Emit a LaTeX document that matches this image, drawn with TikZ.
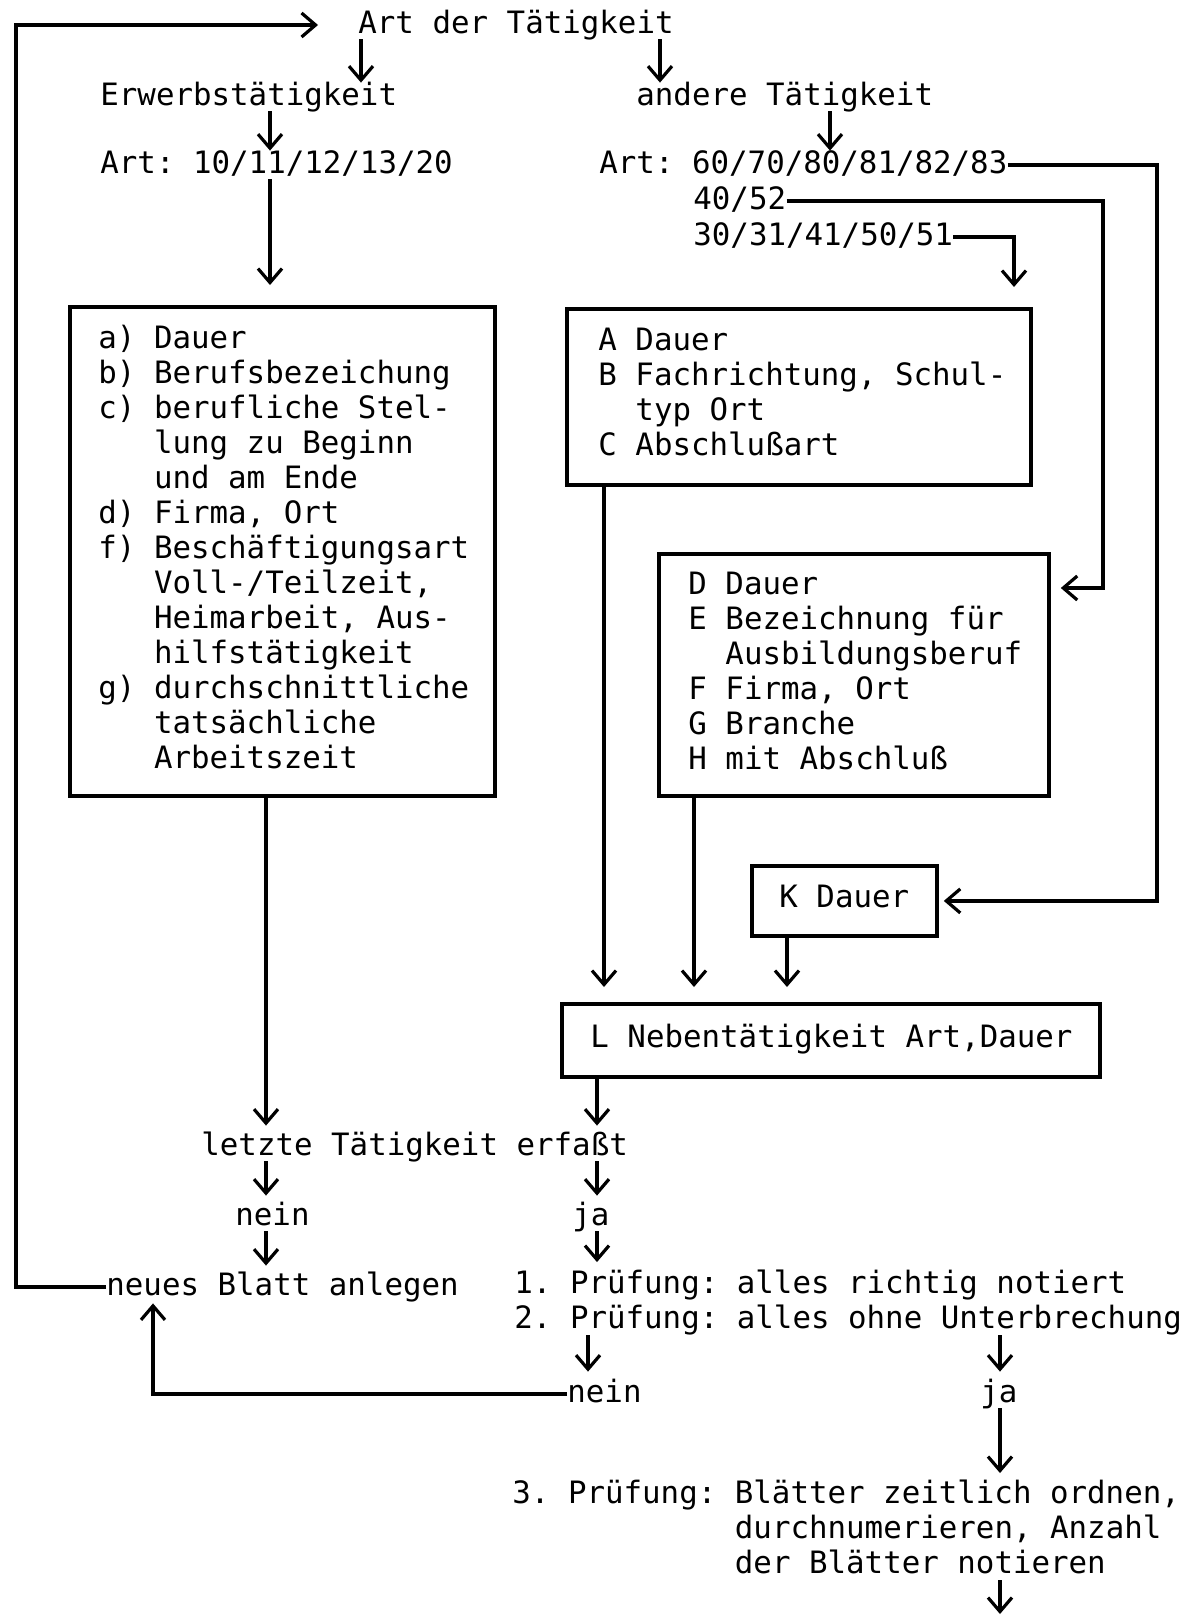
\documentclass[tikz,border=0pt]{standalone}
\usepackage{fontspec}
\setmainfont{DejaVu Sans Mono}
\usetikzlibrary{arrows.meta,calc}
\begin{document}
\frenchspacing
\begin{tikzpicture}[x=0.5pt,y=-0.5pt,
  font=\fontsize{15.4pt}{17.5pt}\selectfont\frenchspacing,
  lbl/.style={inner sep=0pt, text height=11pt, text depth=3pt, anchor=west},
  % multi-line texts are placed by the baseline of their last line
  txt/.style={inner sep=0pt, align=left, anchor=base west},
  box/.style={draw, line width=1.9pt, inner sep=0pt, anchor=north west},
  ln/.style={line width=1.6pt},
  arr/.style={ln, -{Straight Barb[length=7pt,width=12pt,line width=1.6pt]}}]
\path[use as bounding box] (0,0) rectangle (1185,1617);

% helper columns and rows for the connectors
\foreach \xx in {16,153,266,270,361,588,597,604,660,694,787,830,1000,1014,1103,1157}
  \coordinate (x\xx) at (\xx,0);
\coordinate (y588) at (0,588);

% top level
\node[lbl] (top) at (358,25) {Art der Tätigkeit};
\node[lbl] (erw) at (100,97) {Erwerbstätigkeit};
\node[lbl] (and) at (636,97) {andere Tätigkeit};
\node[lbl] (art1) at (100,165) {Art: 10/11/12/13/20};
\node[lbl] (art2) at (599,165) {Art: 60/70/80/81/82/83};
\node[lbl] (c4052) at (693,201) {40/52};
\node[lbl] (c3031) at (693,237) {30/31/41/50/51};

% boxes
\node[box, minimum width=212.5pt, minimum height=244.5pt] (b1) at (68,305) {};
\node[txt] (t1) at (98,768) {a) Dauer\\
b) Berufsbezeichung\\
c) berufliche Stel-\\
\phantom{c) }lung zu Beginn\\
\phantom{c) }und am Ende\\
d) Firma, Ort\\
f) Beschäftigungsart\\
\phantom{f) }Voll-/Teilzeit,\\
\phantom{f) }Heimarbeit, Aus-\\
\phantom{f) }hilfstätigkeit\\
g) durchschnittliche\\
\phantom{g) }tatsächliche\\
\phantom{g) }Arbeitszeit};

\node[box, minimum width=232pt, minimum height=88pt] (bA) at (565,307) {};
\node[txt] (tA) at (598,455) {A Dauer\\
B Fachrichtung, Schul-\\
\phantom{B }typ Ort\\
C Abschlußart};

\node[box, minimum width=195pt, minimum height=121pt] (bD) at (657,552) {};
\node[txt] (tD) at (688,769) {D Dauer\\
E Bezeichnung für\\
\phantom{E }Ausbildungsberuf\\
F Firma, Ort\\
G Branche\\
H mit Abschluß};

\node[box, minimum width=92.5pt, minimum height=35pt] (bK) at (750,864) {};
\node[lbl] (tK) at (779,899) {K Dauer};

\node[box, minimum width=269pt, minimum height=36.5pt] (bL) at (560,1002) {};
\node[lbl] (tL) at (590,1039) {L Nebentätigkeit Art,Dauer};

% checks
\node[lbl] (letzte) at (201,1147) {letzte Tätigkeit erfaßt};
\node[lbl] (nein1) at (235,1217) {nein};
\node[lbl] (ja1) at (572,1217) {ja};
\node[lbl] (neues) at (106,1287) {neues Blatt anlegen};
\node[txt] (pr12) at (514,1328) {1. Prüfung: alles richtig notiert\\
2. Prüfung: alles ohne Unterbrechung};
\node[lbl] (nein2) at (567,1394) {nein};
\node[lbl] (ja2) at (980,1394) {ja};
\node[txt] (pr3) at (512,1573) {3. Prüfung: Blätter zeitlich ordnen,\\
\phantom{3. Prüfung: }durchnumerieren, Anzahl\\
\phantom{3. Prüfung: }der Blätter notieren};
\coordinate (endpt) at (1000,1614);

% connectors
\draw[arr] (x361 |- top.south) -- (x361 |- erw.north);
\draw[arr] (x660 |- top.south) -- (x660 |- and.north);
\draw[arr] (x270 |- erw.south) -- (x270 |- art1.north);
\draw[arr] (x830 |- and.south) -- (x830 |- art2.north);
\draw[arr, shorten >=10pt] (x270 |- art1.south) -- (x270 |- b1.north);
\draw[arr, shorten >=10pt] (c3031.east) -| (x1014 |- bA.north);
\draw[arr, shorten >=5pt] (c4052.east) -| (x1103 |- y588) -- (bD.east |- y588);
\draw[arr, shorten >=2.5pt] (art2.east) -| (x1157 |- bK.east) -- (bK.east);
\draw[arr, shorten >=7.5pt] (x604 |- bA.south) -- (x604 |- bL.north);
\draw[arr, shorten >=7.5pt] (x694 |- bD.south) -- (x694 |- bL.north);
\draw[arr, shorten >=7.5pt] (x787 |- bK.south) -- (x787 |- bL.north);
\draw[arr, shorten >=3.5pt] (x266 |- b1.south) -- (x266 |- letzte.north);
\draw[arr, shorten >=3.5pt] (x597 |- bL.south) -- (x597 |- letzte.north);
\draw[arr, shorten >=3.5pt] (x266 |- letzte.south) -- (x266 |- nein1.north);
\draw[arr, shorten >=3.5pt] (x597 |- letzte.south) -- (x597 |- ja1.north);
\draw[arr, shorten >=3.5pt] (x266 |- nein1.south) -- (x266 |- neues.north);
\draw[arr, shorten >=3.5pt] (x597 |- ja1.south) -- (x597 |- pr12.north);
\draw[arr, shorten >=4pt] (x588 |- pr12.south) -- (x588 |- nein2.north);
\draw[arr, shorten >=4pt] (x1000 |- pr12.south) -- (x1000 |- ja2.north);
\draw[arr, shorten >=3pt] (x1000 |- ja2.south) -- (x1000 |- pr3.north);
\draw[arr] (x1000 |- pr3.south) -- (endpt);
\draw[arr, shorten >=1pt] (nein2.west) -| (x153 |- neues.south);
\draw[arr, shorten >=20pt] (neues.west) -| (x16 |- top.west) -- (top.west);
\end{tikzpicture}
\end{document}
